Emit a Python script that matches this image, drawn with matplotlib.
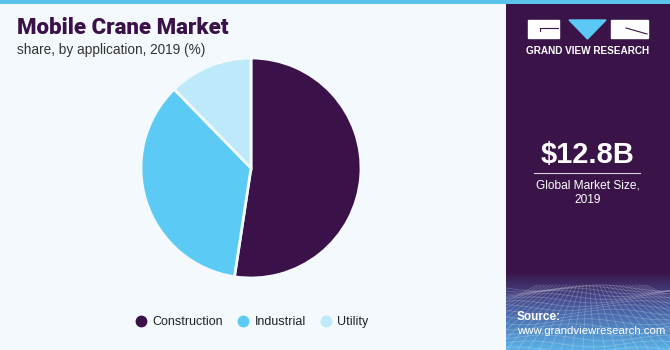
import matplotlib.pyplot as plt
import numpy as np
from matplotlib.lines import Line2D
from matplotlib.patches import Rectangle, Polygon

plt.rcParams["font.family"] = ["Liberation Sans", "DejaVu Sans"]

# market share by application, 2019 (%)
segments = ["Construction", "Industrial", "Utility"]
shares = [52.4, 35.3, 12.3]
colors = ["#3a1149", "#5bcbf5", "#bde9fa"]

market_size = "$12.8B"
market_note = "Global Market Size,\n2019"

W, H = 670, 350
fig = plt.figure(figsize=(W / 100, H / 100), dpi=100)
fig.patch.set_facecolor("#f4f9fd")


def px_axes(x0, y0, x1, y1, **kw):
    """Axes placed with pixel coordinates measured from the top-left corner."""
    return fig.add_axes([x0 / W, 1 - y1 / H, (x1 - x0) / W, (y1 - y0) / H], **kw)


# side panel background with the gradient strip at the bottom
side = px_axes(506, 0, W, H)
side.set_xlim(0, W - 506)
side.set_ylim(H, 0)
side.axis("off")
ys = np.linspace(0, 1, 200)[:, None]
top_c = np.array([58, 20, 73]) / 255
mid_c = np.array([72, 92, 160]) / 255
bot_c = np.array([90, 178, 230]) / 255
t1 = np.clip(ys / 0.45, 0, 1)
t2 = np.clip((ys - 0.45) / 0.55, 0, 1)
grad = top_c * (1 - t1[..., None]) + mid_c * t1[..., None]
grad = grad * (1 - t2[..., None]) + bot_c * t2[..., None]
side.add_patch(Rectangle((0, 0), W - 506, H, color="#3a1449", zorder=0))
side.imshow(grad, extent=(0, W - 506, H, 272), aspect="auto", zorder=1)

# perspective mesh in the gradient strip
for k in range(16):
    y = 288 + 62 * (k / 15) ** 1.5
    xs = np.linspace(0, W - 506, 60)
    side.plot(xs, y + 3 * np.sin(xs / 20 + k * 0.7), color="white", lw=0.6, alpha=0.22, zorder=2)
for k in range(-8, 26):
    xb = k * 11
    side.plot([82 + (xb - 82) * 0.3, xb], [285, H], color="white", lw=0.6, alpha=0.22, zorder=2)

# logo blocks
side.add_patch(Rectangle((22, 20), 31, 18, color="white", zorder=3))
side.plot([34, 34, 52], [31, 28, 28], color="#3a1449", lw=0.8, zorder=4)
side.add_patch(Polygon([[63, 20], [100, 20], [81.5, 39]], color="#5bc8f5", zorder=3))
side.add_patch(Rectangle((105, 20), 37, 18, color="white", zorder=3))
side.plot([120, 141], [28, 34], color="#3a1449", lw=0.8, zorder=4)
side.text(82, 51, "GRAND VIEW RESEARCH", color="white", fontsize=7.2, fontweight="bold",
          ha="center", va="center", zorder=4)

side.text(82, 155, market_size, color="white", fontsize=21, fontweight="bold",
          ha="center", va="center", zorder=4)
side.plot([28, 134], [173, 173], color="#d8d0e0", lw=0.8, zorder=4)
side.text(82, 193, market_note, color="white", fontsize=8.6, ha="center", va="center",
          linespacing=1.25, zorder=4)

side.text(11, 317, "Source:", color="white", fontsize=8.5, fontweight="bold",
          ha="left", va="center", zorder=4)
side.text(11, 331, "www.grandviewresearch.com", color="white", fontsize=8.2,
          ha="left", va="center", zorder=4)

# light strip across the top
strip = px_axes(0, 0, W, 4)
strip.axis("off")
strip.add_patch(Rectangle((0, 0), 1, 1, color="#5cc3ec", transform=strip.transAxes))

# titles
fig.text(17 / W, 1 - 28 / H, "Mobile Crane Market", color="#3a1149", fontsize=16,
         fontweight="black", family=["Roboto", "Liberation Sans"], ha="left", va="center")
fig.text(17 / W, 1 - 50 / H, "share, by application, 2019 (%)", color="#333333",
         fontsize=9.8, ha="left", va="center")

# pie
ax = px_axes(141, 58, 361, 278)
wedges, _ = ax.pie(shares, colors=colors, startangle=90, counterclock=False,
                   wedgeprops=dict(edgecolor="#f4f9fd", linewidth=2))
ax.set_xlim(-1, 1)
ax.set_ylim(-1, 1)
ax.set_aspect("equal")

handles = [Line2D([], [], marker="o", ls="none", markersize=7.5, color=c) for c in colors]
fig.legend(handles, segments, loc="center", bbox_to_anchor=(252 / W, 1 - 322 / H),
           ncol=3, frameon=False, fontsize=9, handlelength=0.9, handletextpad=0.45,
           columnspacing=1.15, labelcolor="#222222")

fig.savefig("out.png", dpi=100, facecolor=fig.get_facecolor())
